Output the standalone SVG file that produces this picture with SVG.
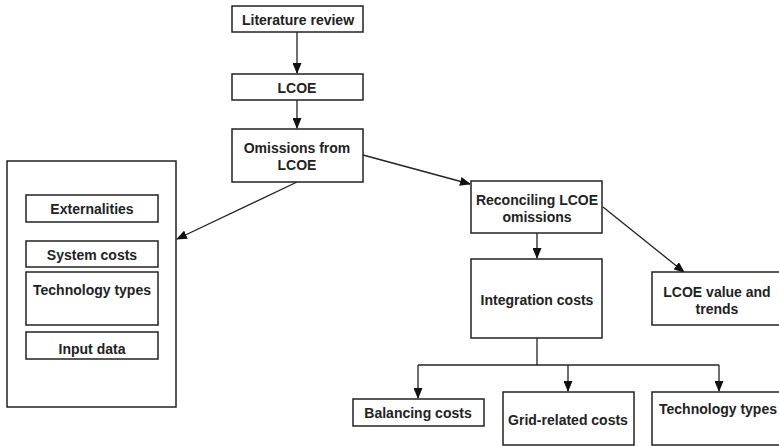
<svg xmlns="http://www.w3.org/2000/svg" width="779" height="446" viewBox="0 0 779 446">
<style>
.box{fill:#fff;stroke:#222;stroke-width:1.5}
.t{font-family:"Liberation Sans",Arial,sans-serif;font-weight:bold;font-size:14px;fill:#222;text-anchor:middle}
.c{fill:none;stroke:#222;stroke-width:1.3}
</style>
<defs>
<marker id="ah" markerUnits="userSpaceOnUse" markerWidth="11" markerHeight="9" refX="10" refY="4.5" orient="auto">
<path d="M0,0 L11,4.5 L0,9 z" fill="#111"/>
</marker>
</defs>
<rect width="779" height="446" fill="#fff"/>
<g id="connectors">
<line class="c" x1="297" y1="32" x2="297" y2="73" marker-end="url(#ah)"/>
<line class="c" x1="297" y1="100" x2="297" y2="128" marker-end="url(#ah)"/>
<line class="c" x1="297" y1="182" x2="177" y2="239" marker-end="url(#ah)"/>
<line class="c" x1="363" y1="155" x2="470" y2="184" marker-end="url(#ah)"/>
<line class="c" x1="537" y1="233" x2="537" y2="258" marker-end="url(#ah)"/>
<line class="c" x1="603" y1="207" x2="684" y2="272" marker-end="url(#ah)"/>
<polyline class="c" points="537,338 537,365"/>
<polyline class="c" points="418,365 719,365"/>
<line class="c" x1="418" y1="365" x2="418" y2="398" marker-end="url(#ah)"/>
<line class="c" x1="568" y1="365" x2="568" y2="391" marker-end="url(#ah)"/>
<line class="c" x1="719" y1="365" x2="719" y2="391" marker-end="url(#ah)"/>
</g>
<g id="literature-review">
<rect class="box" x="232" y="6" width="131" height="26"/>
<text class="t" x="298" y="25">Literature review</text>
</g>
<g id="lcoe">
<rect class="box" x="232" y="74" width="131" height="26"/>
<text class="t" x="297" y="93">LCOE</text>
</g>
<g id="omissions">
<rect class="box" x="232" y="129" width="131" height="53"/>
<text class="t" x="297" y="153">Omissions from</text>
<text class="t" x="297" y="170">LCOE</text>
</g>
<g id="omissions-list">
<rect class="box" x="7" y="161" width="169" height="246"/>
</g>
<g id="externalities">
<rect class="box" x="26" y="195" width="132" height="27"/>
<text class="t" x="92" y="214">Externalities</text>
</g>
<g id="system-costs">
<rect class="box" x="26" y="241" width="132" height="26"/>
<text class="t" x="92" y="260">System costs</text>
</g>
<g id="technology-types-left">
<rect class="box" x="26" y="272" width="132" height="53"/>
<text class="t" x="92" y="295">Technology types</text>
</g>
<g id="input-data">
<rect class="box" x="26" y="332" width="132" height="27"/>
<text class="t" x="92" y="354">Input data</text>
</g>
<g id="reconciling">
<rect class="box" x="471" y="181" width="131" height="52"/>
<text class="t" x="537" y="205">Reconciling LCOE</text>
<text class="t" x="537" y="222">omissions</text>
</g>
<g id="integration-costs">
<rect class="box" x="471" y="259" width="131" height="79"/>
<text class="t" x="537" y="305">Integration costs</text>
</g>
<g id="lcoe-value">
<rect class="box" x="652" y="272" width="132" height="53"/>
<text class="t" x="717" y="297">LCOE value and</text>
<text class="t" x="717" y="314">trends</text>
</g>
<g id="balancing-costs">
<rect class="box" x="353" y="399" width="131" height="27"/>
<text class="t" x="418" y="418">Balancing costs</text>
</g>
<g id="grid-related-costs">
<rect class="box" x="503" y="392" width="131" height="53"/>
<text class="t" x="568" y="425">Grid-related costs</text>
</g>
<g id="technology-types-right">
<rect class="box" x="652" y="392" width="132" height="53"/>
<text class="t" x="659" y="414" style="text-anchor:start">Technology types</text>
</g>
</svg>
